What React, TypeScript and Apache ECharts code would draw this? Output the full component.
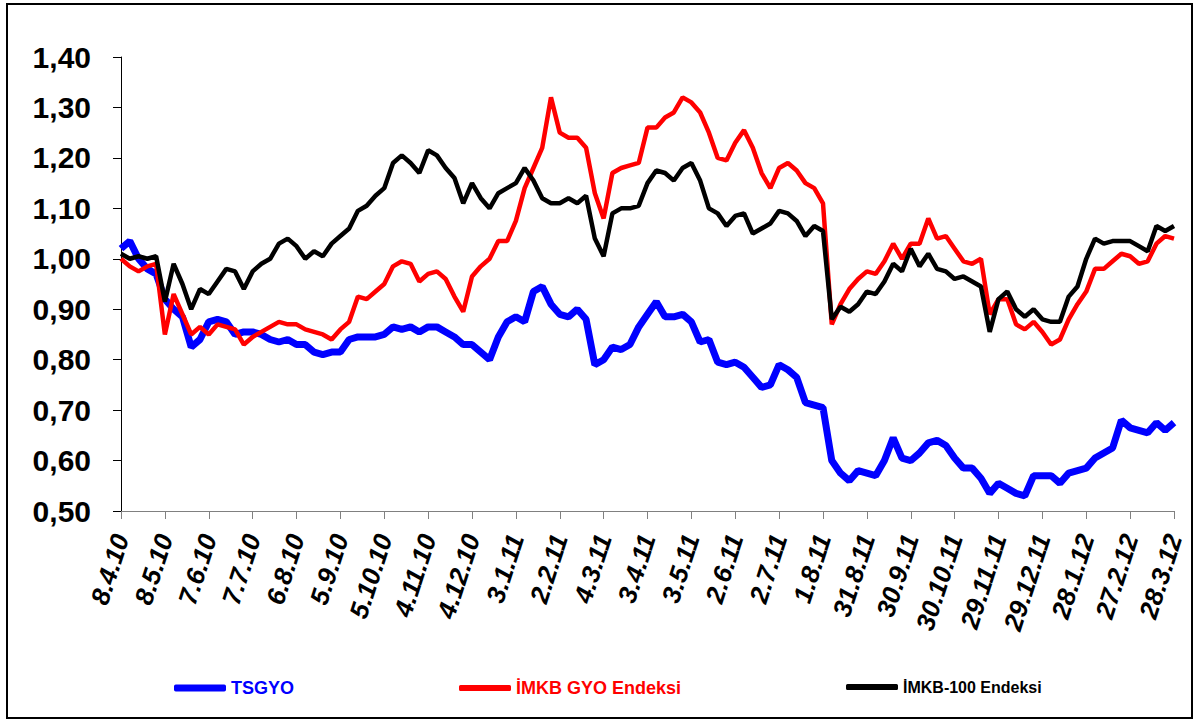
import React, { useEffect, useRef } from "react";
import * as echarts from "echarts";

const tickLabels = [
  "8.4.10", "8.5.10", "7.6.10", "7.7.10", "6.8.10", "5.9.10", "5.10.10", "4.11.10",
  "4.12.10", "3.1.11", "2.2.11", "4.3.11", "3.4.11", "3.5.11", "2.6.11", "2.7.11",
  "1.8.11", "31.8.11", "30.9.11", "30.10.11", "29.11.11", "29.12.11", "28.1.12",
  "27.2.12", "28.3.12",
];
const pointsPerTick = 5;

const tsgyo = [
  1.02, 1.035, 1.0, 0.98, 0.97, 0.92, 0.9, 0.885, 0.825, 0.84,
  0.875, 0.88, 0.875, 0.85, 0.855, 0.855, 0.85, 0.84, 0.835, 0.84,
  0.83, 0.83, 0.815, 0.81, 0.815, 0.815, 0.84, 0.845, 0.845, 0.845,
  0.85, 0.865, 0.86, 0.865, 0.855, 0.865, 0.865, 0.855, 0.845, 0.83,
  0.83, 0.815, 0.8, 0.845, 0.875, 0.885, 0.875, 0.935, 0.945, 0.91,
  0.89, 0.885, 0.9, 0.88, 0.79, 0.8, 0.825, 0.82, 0.83, 0.865,
  0.89, 0.915, 0.885, 0.885, 0.89, 0.875, 0.835, 0.84, 0.795, 0.79,
  0.795, 0.785, 0.765, 0.745, 0.75, 0.79, 0.78, 0.765, 0.715, 0.71,
  0.705, 0.6, 0.575, 0.56, 0.58, 0.575, 0.57, 0.6, 0.645, 0.605,
  0.6, 0.615, 0.635, 0.64, 0.63, 0.605, 0.585, 0.585, 0.565, 0.535,
  0.555, 0.545, 0.535, 0.53, 0.57, 0.57, 0.57, 0.555, 0.575, 0.58,
  0.585, 0.605, 0.615, 0.625, 0.68, 0.665, 0.66, 0.655, 0.675, 0.66,
  0.675,
];

const imkbGyo = [
  1.0, 0.985, 0.975, 0.985, 0.99, 0.85, 0.93, 0.89, 0.85, 0.865,
  0.85, 0.87, 0.865, 0.86, 0.83, 0.845, 0.855, 0.865, 0.875, 0.87,
  0.87, 0.86, 0.855, 0.85, 0.84, 0.86, 0.875, 0.925, 0.92, 0.935,
  0.95, 0.985, 0.995, 0.99, 0.955, 0.97, 0.975, 0.96, 0.925, 0.895,
  0.965, 0.985, 1.0, 1.035, 1.035, 1.075, 1.14, 1.18, 1.22, 1.32,
  1.25, 1.24, 1.24, 1.22, 1.13, 1.08, 1.17, 1.18, 1.185, 1.19,
  1.26, 1.26, 1.28, 1.29, 1.32, 1.31, 1.29, 1.25, 1.2, 1.195,
  1.23, 1.255, 1.22, 1.17, 1.14, 1.18, 1.19, 1.175, 1.15, 1.14,
  1.11, 0.87, 0.91, 0.94, 0.96, 0.975, 0.97, 0.995, 1.03, 1.0,
  1.03, 1.03, 1.08, 1.04, 1.045, 1.02, 0.995, 0.99, 1.0, 0.89,
  0.92, 0.92, 0.87, 0.86, 0.875, 0.855, 0.83, 0.84, 0.88, 0.91,
  0.935, 0.98, 0.98, 0.995, 1.01, 1.005, 0.99, 0.995, 1.03, 1.045,
  1.04,
];

const imkb100 = [
  1.01, 1.0, 1.005, 1.0, 1.005, 0.915, 0.99, 0.95, 0.9, 0.94,
  0.93, 0.955, 0.98, 0.975, 0.94, 0.975, 0.99, 1.0, 1.03, 1.04,
  1.025, 1.0, 1.015, 1.005, 1.03, 1.045, 1.06, 1.095, 1.105, 1.125,
  1.14, 1.19, 1.205, 1.19, 1.17, 1.215, 1.205, 1.18, 1.16, 1.11,
  1.15, 1.12, 1.1, 1.13, 1.14, 1.15, 1.18, 1.155, 1.12, 1.11,
  1.11, 1.12, 1.11, 1.125, 1.04, 1.005, 1.09, 1.1, 1.1, 1.105,
  1.15, 1.175, 1.17, 1.155, 1.18, 1.19, 1.155, 1.1, 1.09, 1.065,
  1.085, 1.09, 1.05, 1.06, 1.07, 1.095, 1.09, 1.075, 1.045, 1.065,
  1.055, 0.88, 0.905, 0.895, 0.91, 0.935, 0.93, 0.955, 0.99, 0.975,
  1.02, 0.985, 1.01, 0.98, 0.975, 0.96, 0.965, 0.955, 0.945, 0.855,
  0.92, 0.935, 0.9, 0.885, 0.9, 0.88, 0.875, 0.875, 0.925, 0.945,
  1.0, 1.04, 1.03, 1.035, 1.035, 1.035, 1.025, 1.015, 1.065, 1.055,
  1.065,
];

const seriesNames = ["TSGYO", "İMKB GYO Endeksi", "İMKB-100 Endeksi"];
const seriesColors = ["#0000ff", "#ff0000", "#000000"];

const categories = tsgyo.map((_, i) =>
  i % pointsPerTick === 0 ? tickLabels[i / pointsPerTick] : ""
);

const FONT = "'Liberation Sans', Arial, sans-serif";

export default function App() {
  const ref = useRef<HTMLDivElement>(null);

  useEffect(() => {
    if (!ref.current) return;
    const chart = echarts.init(ref.current, null, { renderer: "svg" });
    const legendLefts = [174, 459, 846];
    const legendFont = [18, 18, 16];
    const legendIconH = [7, 6, 6];
    chart.setOption({
      animation: false,
      backgroundColor: "#ffffff",
      grid: { left: 121, right: 23, top: 57, bottom: 211, containLabel: false },
      graphic: [
        {
          type: "rect",
          shape: { x: 7, y: 4, width: 1185, height: 714 },
          style: { fill: "none", stroke: "#000000", lineWidth: 2 },
          silent: true,
        },
      ],
      legend: seriesNames.map((name, k) => ({
        data: [
          {
            name,
            icon: "roundRect",
            textStyle: { color: seriesColors[k] },
          },
        ],
        left: legendLefts[k],
        top: 679,
        padding: 0,
        itemWidth: 52,
        itemHeight: legendIconH[k],
        textStyle: {
          fontFamily: FONT,
          fontWeight: "bold",
          fontSize: legendFont[k],
        },
        selectedMode: false,
      })),
      xAxis: {
        type: "category",
        data: categories,
        boundaryGap: false,
        axisLine: { show: true, lineStyle: { color: "#808080", width: 1 } },
        axisTick: {
          show: true,
          interval: pointsPerTick - 1,
          length: 8,
          lineStyle: { color: "#808080" },
        },
        axisLabel: {
          interval: pointsPerTick - 1,
          rotate: 72,
          margin: 24,
          color: "#000000",
          fontFamily: FONT,
          fontWeight: "bold",
          fontStyle: "italic",
          fontSize: 26,
        },
        splitLine: { show: false },
      },
      yAxis: {
        type: "value",
        min: 0.5,
        max: 1.4,
        interval: 0.1,
        axisLine: { show: true, lineStyle: { color: "#000000", width: 1 } },
        axisTick: { show: true, length: 8, lineStyle: { color: "#000000" } },
        axisLabel: {
          margin: 30,
          color: "#000000",
          fontFamily: FONT,
          fontWeight: "bold",
          fontSize: 30,
          formatter: (v: number) => v.toFixed(2).replace(".", ","),
        },
        splitLine: { show: false },
      },
      series: [
        {
          name: seriesNames[0],
          type: "line",
          data: tsgyo,
          showSymbol: false,
          color: seriesColors[0],
          lineStyle: { color: seriesColors[0], width: 7 },
          z: 1,
        },
        {
          name: seriesNames[1],
          type: "line",
          data: imkbGyo,
          showSymbol: false,
          color: seriesColors[1],
          lineStyle: { color: seriesColors[1], width: 4.5 },
          z: 2,
        },
        {
          name: seriesNames[2],
          type: "line",
          data: imkb100,
          showSymbol: false,
          color: seriesColors[2],
          lineStyle: { color: seriesColors[2], width: 4.5 },
          z: 3,
        },
      ],
    });
    return () => chart.dispose();
  }, []);

  return (
    <div
      ref={ref}
      style={{ position: "fixed", left: 0, top: 0, width: 1197, height: 722 }}
    />
  );
}
